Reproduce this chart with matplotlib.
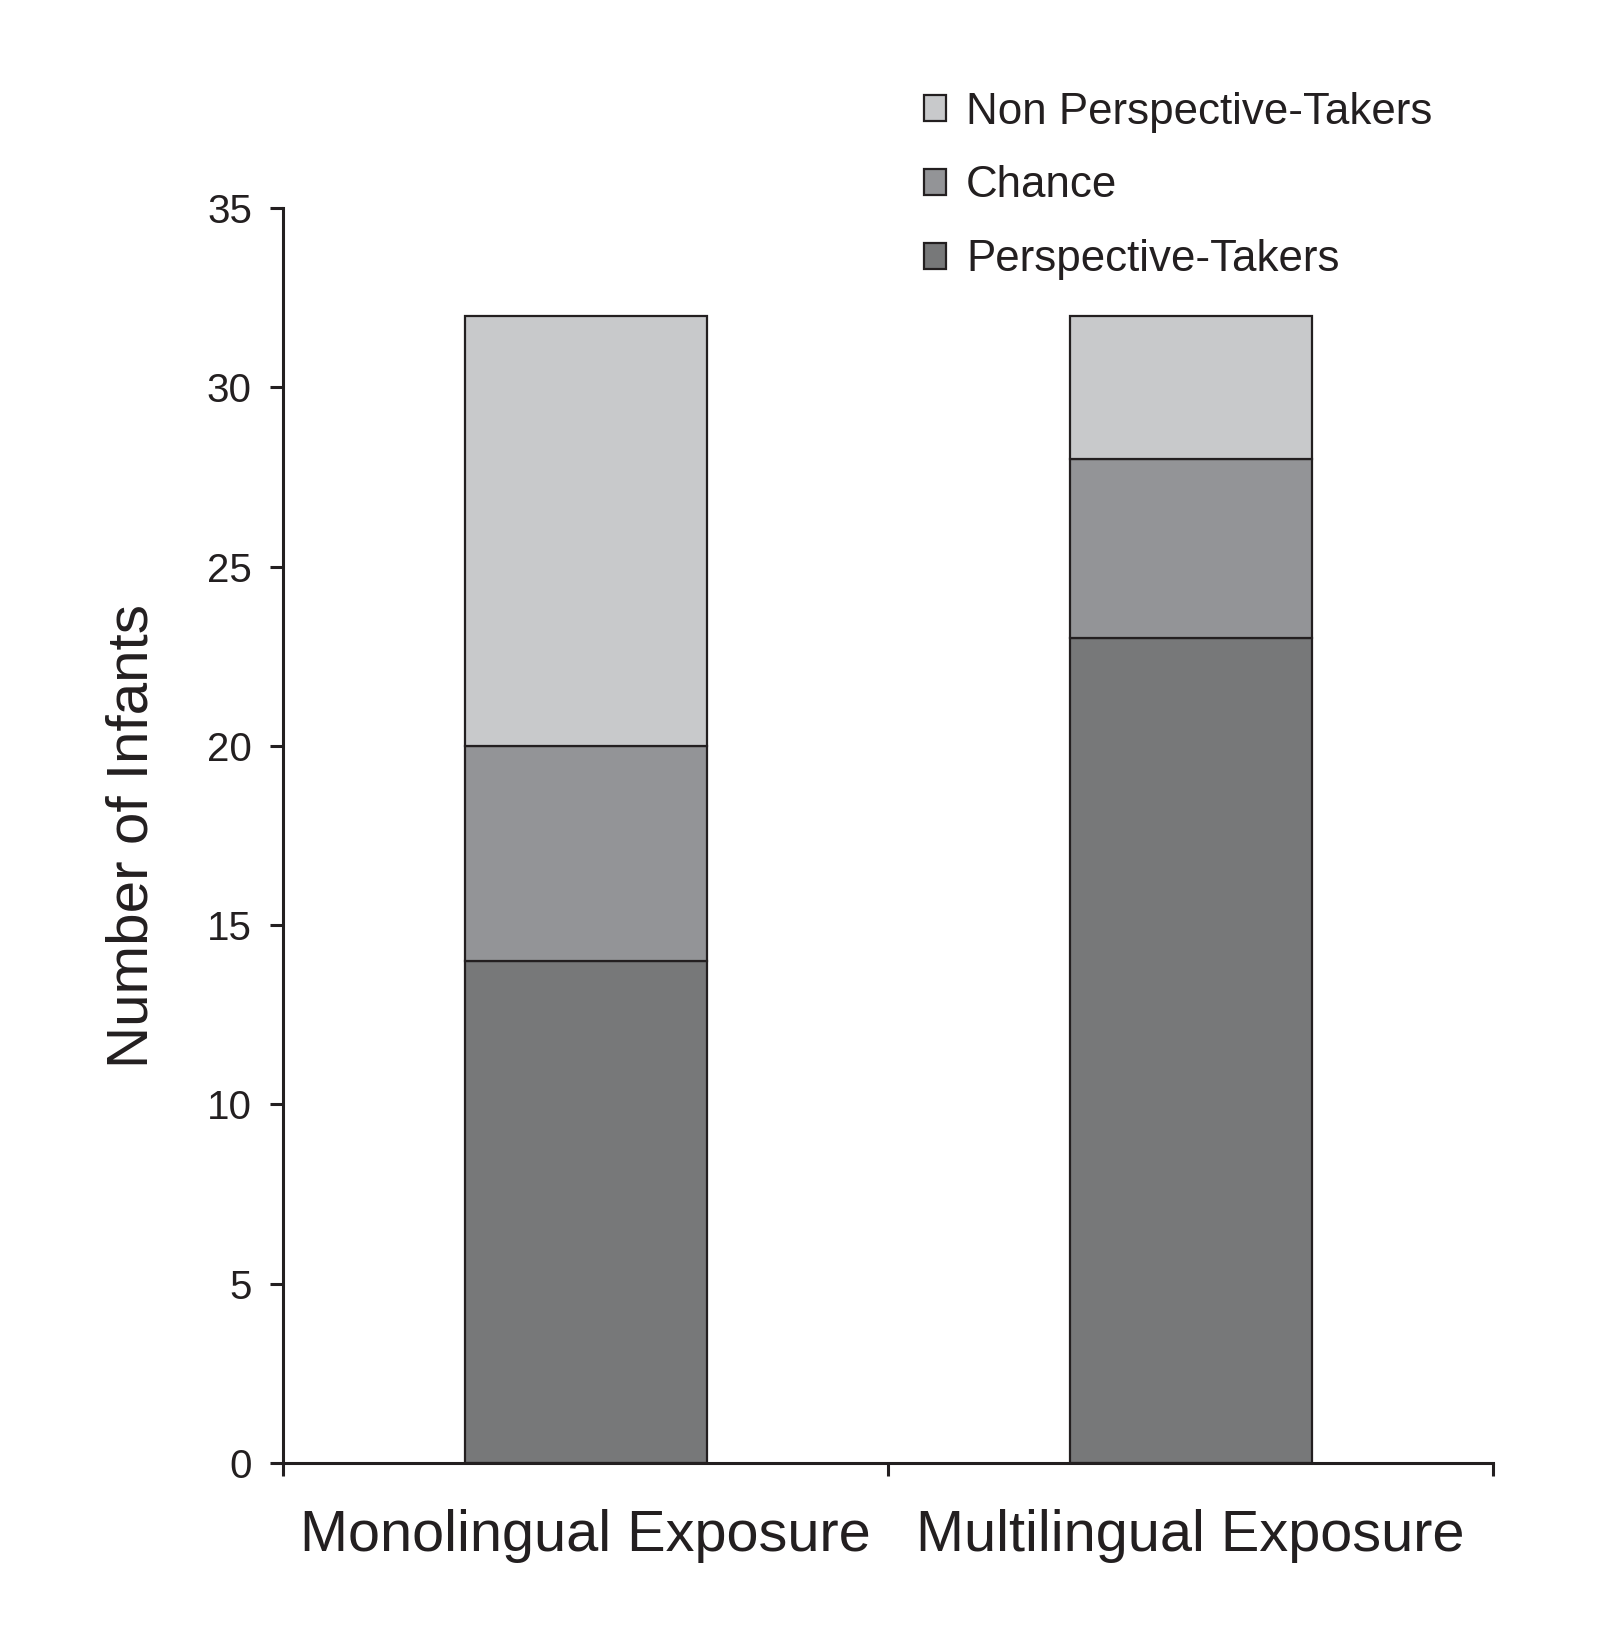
import matplotlib
matplotlib.use("Agg")
import matplotlib.pyplot as plt
import numpy as np

plt.rcParams['font.family'] = ['Liberation Sans', 'DejaVu Sans']

categories = ["Monolingual Exposure", "Multilingual Exposure"]
series_names = ["Perspective-Takers", "Chance", "Non Perspective-Takers"]
perspective_takers = [14, 23]
chance = [6, 5]
non_perspective_takers = [12, 4]
y_ticks = [0, 5, 10, 15, 20, 25, 30, 35]

colors = ["#777879", "#939497", "#c8c9cb"]
edge = "#231f20"

fig = plt.figure(figsize=(16, 16.37), dpi=100)
ax = fig.add_axes([283/1600, 1 - 1463/1637, (1493-283)/1600, (1463-208)/1637])

x = np.array([0.5, 1.5])
values = [perspective_takers, chance, non_perspective_takers]
bottom = np.zeros(2)
handles = []
for name, vals, c in zip(series_names, values, colors):
    b = ax.bar(x, vals, width=0.40, bottom=bottom, color=c, edgecolor=edge,
               linewidth=1.6, label=name, zorder=2)
    handles.append(b)
    bottom += np.array(vals)

ax.set_xlim(0, 2)
ax.set_ylim(0, 35)
ax.set_yticks(y_ticks)
ax.set_xticks([0, 1, 2])
ax.set_xticklabels([])
ax.set_xticks(x, minor=True)
ax.set_xticklabels(categories, minor=True, fontsize=41.5)
ax.tick_params(axis='x', which='minor', length=0, pad=33, colors=edge)
ax.tick_params(axis='x', which='major', direction='out', length=9.4, width=2.2, color=edge)
ax.tick_params(axis='y', direction='out', length=9.4, width=2.2, color=edge,
               labelsize=29, pad=13, labelcolor=edge)
for s in ['top', 'right']:
    ax.spines[s].set_visible(False)
for s in ['left', 'bottom']:
    ax.spines[s].set_linewidth(2.2)
    ax.spines[s].set_color(edge)

ax.set_ylabel("Number of Infants", fontsize=42, color=edge)
ax.yaxis.set_label_coords(-0.102, 0.5)

leg = fig.legend(handles[::-1], series_names[::-1], loc='upper left',
                 bbox_to_anchor=(906/1600, 1 - 74/1637), frameon=False,
                 fontsize=31.6, handlelength=0.52, handleheight=0.52,
                 handletextpad=0.45, labelspacing=0.75, borderaxespad=0)
for t in leg.get_texts():
    t.set_color(edge)

fig.savefig("out.png", dpi=100)
